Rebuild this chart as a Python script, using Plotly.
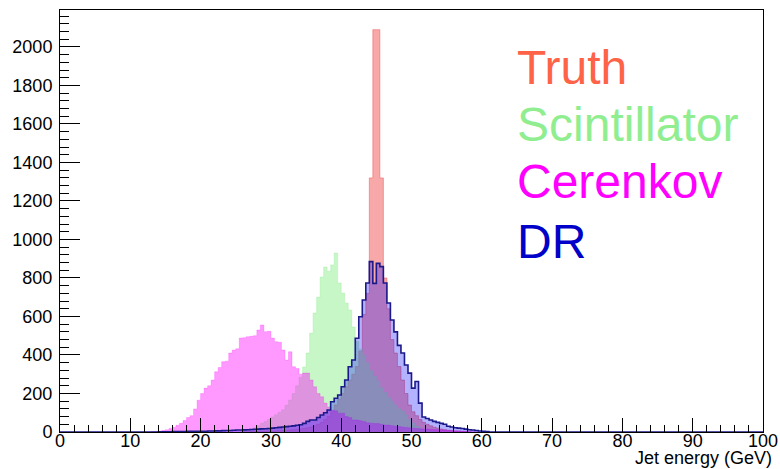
import numpy as np
import plotly.graph_objects as go

# Histogram binning (GeV)
BIN_WIDTH = 0.5
X_MIN, X_MAX = 0.0, 100.0

# Bin contents, listed from the first non-empty bin (lower edge given by *_start)
truth_start = 26.0
truth_counts = [
    1, 1, 2, 2, 3, 3, 4, 4, 5, 6, 7, 8, 9, 10, 12, 14, 16, 19, 22, 26,
    32, 40, 50, 65, 82, 105, 140, 170, 200, 235, 270, 300, 340, 420, 610, 720,
    1320, 2090, 2090, 1320, 800, 640, 480, 410, 340, 270, 200, 140, 105, 85,
    65, 50, 40, 32, 25, 20, 15, 12, 9, 7, 5, 4, 3, 2, 1,
]

scint_start = 26.0
scint_counts = [
    5, 10, 15, 22, 32, 45, 55, 65, 78, 90, 102, 115, 140, 166, 200, 240,
    285, 338, 410, 514, 618, 701, 805, 857, 835, 868, 930, 774, 722, 670,
    634, 545, 470, 430, 400, 360, 320, 290, 265, 230, 205, 180, 160, 140,
    120, 108, 90, 65, 45, 30, 20, 12, 8, 5, 3,
]

cer_start = 13.0
cer_counts = [
    2, 3, 5, 8, 12, 18, 25, 35, 45, 60, 75, 85, 120, 165, 200, 228, 240, 270,
    313, 335, 365, 368, 410, 426, 432, 488, 490, 495, 497, 500, 530, 556, 521,
    523, 488, 469, 466, 426, 374, 417, 339, 330, 300, 306, 306, 270, 235, 200,
    183, 150, 130, 114, 110, 98, 98, 80, 75, 62, 62, 58, 55, 48, 46, 44, 44,
    40, 36, 36, 33, 30, 28, 26, 24, 22, 20, 18, 17, 16, 15, 14, 13, 12, 11,
    10, 9, 8, 7, 6, 5, 4, 3, 2, 1,
]

dr_start = 14.0
dr_counts = [
    1, 1, 1, 1, 2, 2, 2, 2, 3, 3, 3, 3, 4, 4, 5, 5, 6, 6, 7, 8, 8, 9, 10, 10,
    11, 12, 13, 14, 15, 16, 17, 18, 20, 22, 24, 26, 28, 30, 32, 35, 38, 45,
    55, 62, 62, 75, 88, 100, 114, 157, 175, 192, 235, 270, 339, 374, 487, 599,
    686, 774, 885, 772, 876, 859, 774, 670, 582, 520, 450, 410, 348, 306, 228,
    262, 150, 78, 70, 62, 55, 50, 45, 40, 30, 26, 22, 20, 18, 15, 12, 10, 8,
    5, 3, 2,
]

# Legend entries (label, text colour)
labels = ["Truth", "Scintillator", "Cerenkov", "DR"]
label_colors = ["#ff6347", "#90ee90", "#ff00ff", "#0000c8"]

Y_MAX = 2192
X_TITLE = "Jet energy (GeV)"

FONT = "Liberation Sans, Arial, sans-serif"


def full_range(start, counts):
    """Expand a partial histogram onto the whole 0-100 GeV axis."""
    n = int(round((X_MAX - X_MIN) / BIN_WIDTH))
    h = np.zeros(n)
    i0 = int(round((start - X_MIN) / BIN_WIDTH))
    h[i0:i0 + len(counts)] = counts
    return X_MIN, h


def step_path(start, counts):
    """Closed outline of a histogram, to be drawn with an 'hv' line shape."""
    counts = np.asarray(counts, dtype=float)
    edges = start + BIN_WIDTH * np.arange(len(counts) + 1)
    xs = np.concatenate([[edges[0]], edges, [edges[-1]]])
    ys = np.concatenate([[0.0], counts, [counts[-1]], [0.0]])
    return xs, ys


fig = go.Figure()

styles = [
    (truth_start, truth_counts, "rgba(240,70,70,0.47)", "rgba(240,70,70,0.45)", 1.0),
    (scint_start, scint_counts, "rgba(144,238,144,0.5)", "rgba(144,238,144,0.5)", 0.6),
    (cer_start, cer_counts, "rgba(255,0,255,0.4)", "rgba(255,0,255,0.35)", 0.6),
]
for start, counts, fillc, linec, lw in styles:
    xs, ys = step_path(start, counts)
    fig.add_trace(go.Scatter(
        x=xs, y=ys, mode="lines", line=dict(shape="hv", color=linec, width=lw),
        fill="toself", fillcolor=fillc, hoverinfo="skip", showlegend=False,
    ))

# DR: filled body plus a dark outline running over the whole axis
xs, ys = step_path(dr_start, dr_counts)
fig.add_trace(go.Scatter(
    x=xs, y=ys, mode="lines", line=dict(shape="hv", color="rgba(0,0,0,0)", width=0),
    fill="toself", fillcolor="rgba(0,0,255,0.3)", hoverinfo="skip", showlegend=False,
))
s0, h_full = full_range(dr_start, dr_counts)
xs, ys = step_path(s0, h_full)
fig.add_trace(go.Scatter(
    x=xs, y=ys, mode="lines", line=dict(shape="hv", color="#1c1a8a", width=1.6),
    hoverinfo="skip", showlegend=False,
))

# Large coloured legend text
plot_top, plot_h = 10, 422
label_centres = [67.5, 124.5, 181, 241.5]
for lab, col, yc in zip(labels, label_colors, label_centres):
    fig.add_annotation(
        text=lab, xref="paper", yref="paper",
        x=(515 - 60) / 703, y=1 - (yc - plot_top) / plot_h,
        xanchor="left", yanchor="middle", showarrow=False,
        font=dict(family=FONT, size=48, color=col),
    )

fig.add_annotation(
    text=X_TITLE, xref="paper", yref="paper", x=1, xshift=11,
    y=-(458 - 432) / plot_h, xanchor="right", yanchor="middle", showarrow=False,
    font=dict(family=FONT, size=18, color="black"),
)

axis_common = dict(
    showgrid=False, zeroline=False, showline=True, mirror=True,
    linecolor="black", linewidth=1, ticks="inside", tickcolor="black",
    tickwidth=1, tickfont=dict(family=FONT, size=18, color="black"),
    automargin=False,
)

fig.update_xaxes(
    range=[X_MIN, X_MAX], tick0=0, dtick=10, ticklen=14,
    ticklabelstandoff=-8,
    minor=dict(dtick=2, ticks="inside", ticklen=7, tickcolor="black"),
    **axis_common,
)
fig.update_yaxes(
    range=[0, Y_MAX], tick0=0, dtick=200, ticklen=20,
    ticklabelstandoff=3,
    minor=dict(dtick=40, ticks="inside", ticklen=9, tickcolor="black"),
    **axis_common,
)

fig.update_layout(
    width=780, height=469, autosize=False,
    margin=dict(l=60, r=17, t=10, b=37, pad=0),
    plot_bgcolor="white", paper_bgcolor="white",
)

fig.write_html("out.html")
